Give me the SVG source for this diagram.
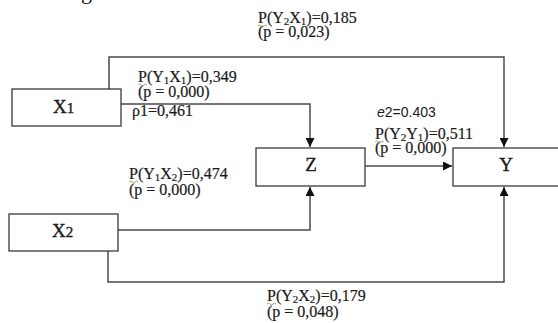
<svg xmlns="http://www.w3.org/2000/svg" width="558" height="323" viewBox="0 0 558 323">
<style>
.box{fill:#fff;stroke:#3a3a3a;stroke-width:1.3}
.ln{fill:none;stroke:#4a4a4a;stroke-width:1.5}
.lbl{font-family:"Liberation Serif","Times New Roman",serif;font-size:16px;fill:#1a1a1a;stroke:#1a1a1a;stroke-width:0.2}
.sub{font-size:11px}
.nd{font-family:"Liberation Serif","Times New Roman",serif;font-size:19px;fill:#1a1a1a;stroke:#1a1a1a;stroke-width:0.35}
.sans{font-family:"Liberation Sans",Arial,sans-serif;font-size:14px;fill:#1a1a1a}
.sq{fill:none;stroke:#6a9a4a;stroke-width:0.8}
</style>
<defs>
<marker id="ah" viewBox="0 0 10 10" refX="10" refY="5" markerWidth="9" markerHeight="9" markerUnits="userSpaceOnUse" orient="auto">
<path d="M0,0 L10,5 L0,10 z" fill="#111"/>
</marker>
</defs>
<rect width="558" height="323" fill="#fff"/>
<text x="81" y="-1" font-family="Liberation Serif, serif" font-size="22" fill="#111">g</text>
<g id="connectors">
<path class="ln" d="M109,89 V57 H504 V147" marker-end="url(#ah)"/>
<path class="ln" d="M121,104 H310 V147" marker-end="url(#ah)"/>
<path class="ln" d="M365,166 H452" marker-end="url(#ah)"/>
<path class="ln" d="M118,230 H310 V187" marker-end="url(#ah)"/>
<path class="ln" d="M108,251 V282 H504 V187" marker-end="url(#ah)"/>
</g>
<g id="X1">
<rect class="box" x="12" y="89" width="109" height="37"/>
<text class="nd" x="53" y="113">X<tspan font-size="15">1</tspan></text>
</g>
<g id="X2">
<rect class="box" x="9" y="214" width="109" height="37"/>
<text class="nd" x="52" y="237">X<tspan font-size="15">2</tspan></text>
</g>
<g id="Z">
<rect class="box" x="256" y="148" width="109" height="38"/>
<text class="nd" x="311" y="171" text-anchor="middle">Z</text>
</g>
<g id="Y">
<rect class="box" x="453" y="148" width="120" height="38"/>
<text class="nd" x="506" y="171" text-anchor="middle">Y</text>
</g>
<g id="labels">
<text class="lbl" x="258" y="23">P(Y<tspan class="sub" dy="1.5">2</tspan><tspan dy="-1.5">X</tspan><tspan class="sub" dy="1.5">1</tspan><tspan dy="-1.5">)=0,185</tspan></text>
<text class="lbl" x="258" y="37">(p = 0,023)</text>
<path class="sq" d="M258,26 q1.5,-2 3,0 t3,0 t3,0"/>
<text class="lbl" x="138" y="82">P(Y<tspan class="sub" dy="1.5">1</tspan><tspan dy="-1.5">X</tspan><tspan class="sub" dy="1.5">1</tspan><tspan dy="-1.5">)=0,349</tspan></text>
<text class="lbl" x="138" y="97">(p = 0,000)</text>
<path class="sq" d="M138,85 q1.5,-2 3,0 t3,0 t3,0"/>
<text class="lbl" x="132" y="116">ρ1=0,461</text>
<text class="sans" x="377" y="117"><tspan font-style="italic">e</tspan>2=0.403</text>
<text class="lbl" x="375" y="139">P(Y<tspan class="sub" dy="1.5">2</tspan><tspan dy="-1.5">Y</tspan><tspan class="sub" dy="1.5">1</tspan><tspan dy="-1.5">)=0,511</tspan></text>
<text class="lbl" x="375" y="153">(p = 0,000)</text>
<path class="sq" d="M375,142 q1.5,-2 3,0 t3,0 t3,0"/>
<text class="lbl" x="129" y="179">P(Y<tspan class="sub" dy="1.5">1</tspan><tspan dy="-1.5">X</tspan><tspan class="sub" dy="1.5">2</tspan><tspan dy="-1.5">)=0,474</tspan></text>
<text class="lbl" x="129" y="195">(p = 0,000)</text>
<path class="sq" d="M129,182 q1.5,-2 3,0 t3,0 t3,0"/>
<text class="lbl" x="267" y="301">P(Y<tspan class="sub" dy="1.5">2</tspan><tspan dy="-1.5">X</tspan><tspan class="sub" dy="1.5">2</tspan><tspan dy="-1.5">)=0,179</tspan></text>
<text class="lbl" x="267" y="317">(p = 0,048)</text>
<path class="sq" d="M267,304 q1.5,-2 3,0 t3,0 t3,0"/>
</g>
</svg>
